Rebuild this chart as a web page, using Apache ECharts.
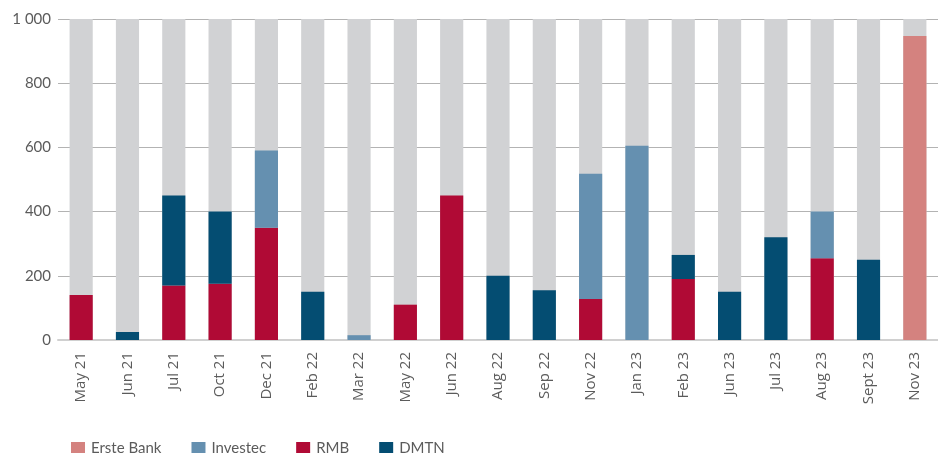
<!DOCTYPE html>
<html>
<head>
<meta charset="utf-8">
<script src="https://cdn.jsdelivr.net/npm/echarts@6/dist/echarts.min.js"></script>
<style>
  html, body { margin: 0; padding: 0; background: #fff; }
  #chart { width: 938px; height: 453px; }
</style>
</head>
<body>
<div id="chart"></div>
<script>
// categories (issue dates)
const categories = ['May 21', 'Jun 21', 'Jul 21', 'Oct 21', 'Dec 21', 'Feb 22', 'Mar 22', 'May 22', 'Jun 22',
  'Aug 22', 'Sep 22', 'Nov 22', 'Jan 23', 'Feb 23', 'Jun 23', 'Jul 23', 'Aug 23', 'Sept 23', 'Nov 23'];

// facility size (grey backdrop)
const capacity = [1000, 1000, 1000, 1000, 1000, 1000, 1000, 1000, 1000, 1000, 1000, 1000, 1000, 1000, 1000, 1000, 1000, 1000, 1000];

// amounts per funder
const rmb      = [140, 0, 170, 175, 350, 0, 0, 110, 450, 0, 0, 128, 0, 190, 0, 0, 255, 0, 0];
const dmtn     = [0, 25, 280, 225, 0, 150, 0, 0, 0, 200, 155, 0, 0, 75, 150, 320, 0, 250, 0];
const investec = [0, 0, 0, 0, 240, 0, 15, 0, 0, 0, 0, 390, 605, 0, 0, 0, 145, 0, 0];
const erste    = [0, 0, 0, 0, 0, 0, 0, 0, 0, 0, 0, 0, 0, 0, 0, 0, 0, 0, 947];

const yTicks = [0, 200, 400, 600, 800, 1000];

const FONT = 'Lato';
const textColor = '#5b5b5b';

const chart = echarts.init(document.getElementById('chart'));

function part(name, data, color) {
  return {
    name: name,
    type: 'bar',
    stack: 'total',
    data: data.map(v => (v === 0 ? null : v)),
    itemStyle: { color: color },
    barWidth: '50%',
    barGap: '-100%',
    emphasis: { disabled: true }
  };
}

const option = {
  animation: false,
  grid: { left: 58, right: -2, top: 19, bottom: 113 },
  legend: {
    data: ['Erste Bank', 'Investec', 'RMB', 'DMTN'],
    left: 66,
    top: 436,
    icon: 'rect',
    itemWidth: 14,
    itemHeight: 13,
    itemGap: 30,
    textStyle: { fontFamily: FONT, fontSize: 15, color: textColor, padding: [0, 0, 0, 1] }
  },
  xAxis: {
    type: 'category',
    data: categories,
    axisLine: { lineStyle: { color: '#d0d0d0', width: 2 } },
    axisTick: { show: false },
    axisLabel: { rotate: 90, margin: 12, fontFamily: 'Open Sans', fontSize: 15, color: textColor, interval: 0 }
  },
  yAxis: {
    type: 'value',
    min: yTicks[0],
    max: yTicks[yTicks.length - 1],
    interval: 200,
    axisLine: { show: false },
    axisTick: { show: false },
    splitLine: { lineStyle: { color: '#b3b3b3', width: 1 } },
    axisLabel: {
      margin: 7,
      fontFamily: FONT,
      fontSize: 15,
      color: textColor,
      formatter: v => String(v).replace(/\B(?=(\d{3})+(?!\d))/g, ' ')
    }
  },
  series: [
    {
      name: 'capacity',
      type: 'bar',
      data: capacity,
      barWidth: '50%',
      barGap: '-100%',
      itemStyle: { color: '#d1d2d4' },
      emphasis: { disabled: true }
    },
    part('RMB', rmb, '#b00a35'),
    part('DMTN', dmtn, '#044d72'),
    part('Investec', investec, '#6590b0'),
    part('Erste Bank', erste, '#d4827f')
  ]
};

chart.setOption(option);
</script>
</body>
</html>
